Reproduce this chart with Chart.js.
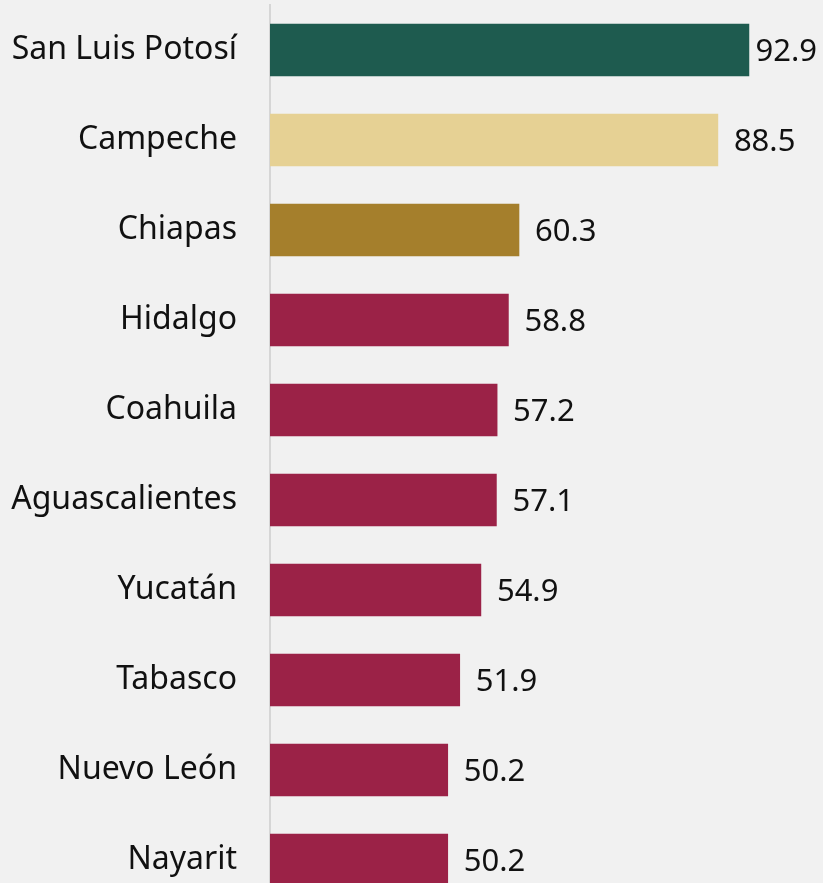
<!DOCTYPE html>
<html>
<head>
<meta charset="utf-8">
<script src="https://cdn.jsdelivr.net/npm/chart.js@4"></script>
<style>
  html, body { margin: 0; padding: 0; background: #f1f1f1; overflow: hidden; }
  canvas { display: block; }
</style>
</head>
<body>
<canvas id="chart" width="823" height="910"></canvas>
<script>
const states = ['San Luis Potosí', 'Campeche', 'Chiapas', 'Hidalgo', 'Coahuila',
  'Aguascalientes', 'Yucatán', 'Tabasco', 'Nuevo León', 'Nayarit'];
const values = [92.9, 88.5, 60.3, 58.8, 57.2, 57.1, 54.9, 51.9, 50.2, 50.2];
const barColors = ['#1e5b4f', '#e6d194', '#a57f2c', '#9b2247', '#9b2247',
  '#9b2247', '#9b2247', '#9b2247', '#9b2247', '#9b2247'];

const font = '"Noto Sans", "Open Sans", sans-serif';

// value labels to the right of each bar, kept inside the canvas
const valueLabels = {
  id: 'valueLabels',
  afterDatasetsDraw(chart) {
    const ctx = chart.ctx;
    const meta = chart.getDatasetMeta(0);
    ctx.save();
    ctx.font = `31px ${font}`;
    ctx.fillStyle = '#111';
    ctx.textBaseline = 'middle';
    ctx.textAlign = 'left';
    meta.data.forEach((bar, i) => {
      const txt = values[i].toFixed(1);
      const w = ctx.measureText(txt).width;
      const x = Math.min(bar.x + 16, chart.width - w - 6);
      ctx.fillText(txt, x, bar.y + 2);
    });
    ctx.restore();
  },
};

new Chart(document.getElementById('chart'), {
  type: 'bar',
  data: {
    labels: states,
    datasets: [{
      data: values,
      backgroundColor: barColors,
      borderWidth: 0,
      barThickness: 52,
    }],
  },
  options: {
    indexAxis: 'y',
    responsive: false,
    animation: false,
    layout: { padding: { top: 5, right: 24, bottom: 5, left: 0 } },
    plugins: {
      legend: { display: false },
      tooltip: { enabled: false },
    },
    scales: {
      x: {
        display: false,
        min: 25,
        max: 100,
      },
      y: {
        grid: { display: false, drawTicks: false },
        border: { display: true, color: '#d6d6d6', width: 2 },
        ticks: {
          color: '#111',
          padding: 33,
          font: { family: font, size: 32 },
        },
        afterFit(scale) {
          scale.width = 270;
          scale.paddingTop = 0;
          scale.paddingBottom = 0;
        },
      },
    },
  },
  plugins: [valueLabels],
});
</script>
</body>
</html>
